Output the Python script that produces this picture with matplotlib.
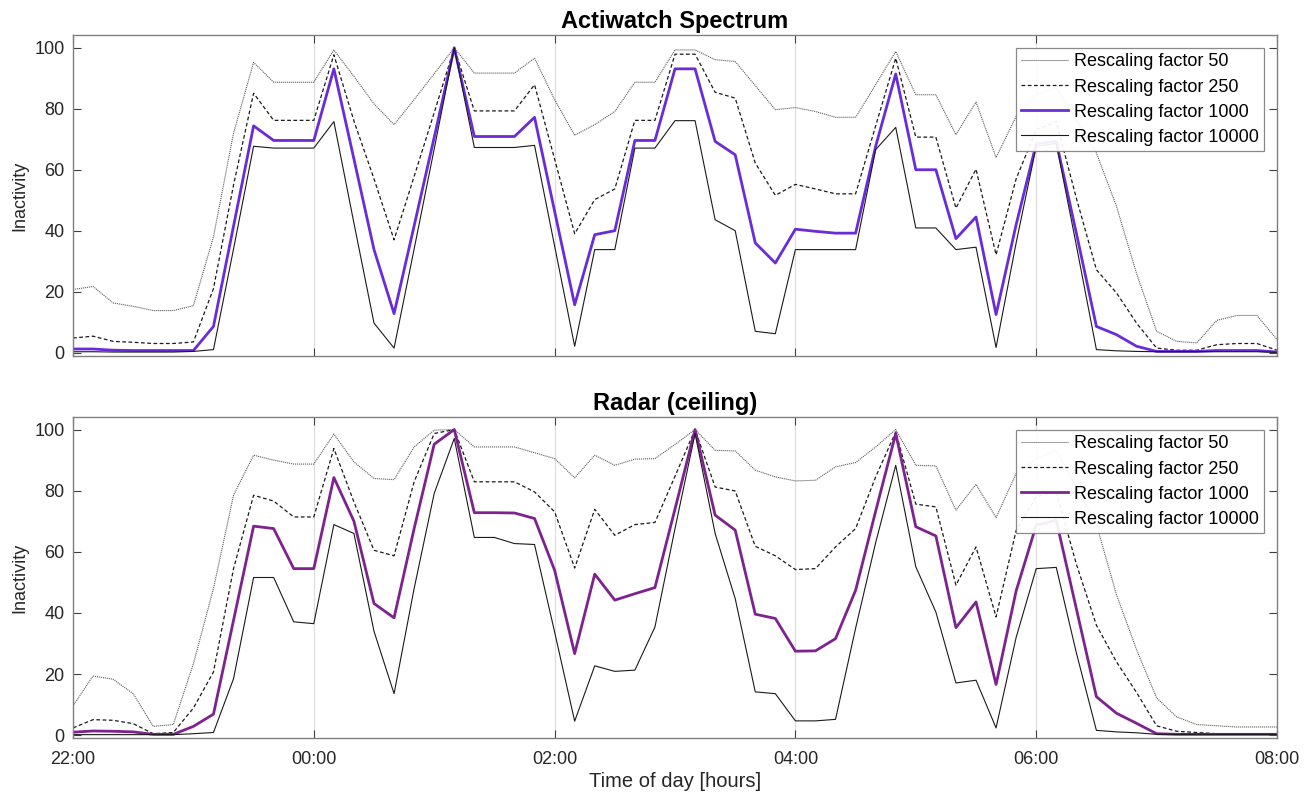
import numpy as np
import matplotlib
matplotlib.use("Agg")
import matplotlib.pyplot as plt

plt.rcParams["font.family"] = ["Liberation Sans", "DejaVu Sans"]

# samples every 10 minutes from 22:00 to 08:00
minutes = np.arange(61) * 10
tick_minutes = [0, 120, 240, 360, 480, 600]
tick_labels = ["22:00", "00:00", "02:00", "04:00", "06:00", "08:00"]
factor_labels = ["Rescaling factor 50", "Rescaling factor 250",
                 "Rescaling factor 1000", "Rescaling factor 10000"]

# Actiwatch Spectrum
act_50 = [20.7, 21.7, 16.3, 15.2, 13.8, 13.8, 15.4, 38, 72, 95.2,
          88.7, 88.7, 88.7, 99.3, 90.6, 81.6, 74.8, 83, 91.5, 100,
          91.7, 91.7, 91.7, 96.6, 83, 71.3, 74.8, 79.1, 88.7, 88.7,
          99.3, 99.3, 96.1, 95.5, 87.6, 79.7, 80.4, 79.1, 77.2, 77.2,
          87.9, 98.8, 84.6, 84.6, 71.5, 82.2, 64.0, 77.5, 84.6, 87,
          76, 65.5, 48, 26, 7.0, 3.7, 3.2, 10.6, 12.2, 12.2, 4.3]
act_250 = [4.8, 5.4, 3.7, 3.4, 3.0, 3.0, 3.5, 21, 55, 85.1,
           76.2, 76.2, 76.2, 97.7, 76, 57, 37, 57.8, 78.7, 100,
           79.3, 79.3, 79.3, 87.9, 63.5, 39.0, 50.2, 53.7, 76.2, 76.2,
           97.9, 97.9, 85.4, 83.5, 62.2, 51.6, 55.2, 53.7, 52.1, 52.1,
           74.4, 96.6, 70.7, 70.7, 47.4, 60.2, 32.1, 57, 73.1, 75.8,
           50.7, 27.2, 19.6, 9.7, 1.5, 0.8, 0.8, 2.6, 3.0, 3.0, 0.8]
act_1000 = [1.2, 1.2, 0.8, 0.7, 0.7, 0.7, 0.7, 8.6, 41.5, 74.4,
            69.6, 69.6, 69.6, 93.1, 63.5, 33.8, 12.8, 41.6, 70.6, 100,
            70.9, 70.9, 70.9, 77.2, 46.4, 15.7, 38.7, 40.0, 69.6, 69.6,
            93.1, 93.1, 69.3, 64.9, 36.0, 29.4, 40.5, 39.8, 39.2, 39.2,
            67.7, 91.4, 60.0, 60.0, 37.4, 44.5, 12.5, 42, 68.5, 69.3,
            39.2, 8.6, 5.9, 2.1, 0.4, 0.4, 0.4, 0.7, 0.7, 0.7, 0.2]
act_10000 = [0.3, 0.3, 0.2, 0.2, 0.2, 0.2, 0.4, 1.0, 34, 67.7,
             67.1, 67.1, 67.1, 75.8, 42.5, 9.7, 1.5, 34, 66.8, 100,
             67.3, 67.3, 67.3, 68.0, 35, 2.1, 33.8, 33.8, 67.1, 67.1,
             76.1, 76.1, 43.6, 40.0, 7.0, 6.2, 33.8, 33.8, 33.8, 33.8,
             66.6, 73.9, 40.9, 40.9, 33.8, 34.6, 1.7, 36, 67.6, 68.7,
             35.2, 1.0, 0.6, 0.4, 0.3, 0.3, 0.3, 0.3, 0.3, 0.3, 0.1]

# Radar (ceiling)
rad_50 = [9.6, 19.4, 18.3, 13.6, 2.9, 3.5, 23.4, 48.0, 78.5, 91.6,
          90.0, 88.7, 88.7, 98.5, 89.4, 84.0, 83.6, 94.3, 99.8, 100,
          94.3, 94.3, 94.3, 92.4, 90.5, 84.2, 91.6, 88.3, 90.3, 90.5,
          95.1, 100, 93.2, 93.0, 86.7, 84.5, 83.2, 83.4, 87.8, 89.2,
          94.3, 100, 88.3, 88.1, 73.6, 82.1, 71.2, 85.6, 90.5, 93.2,
          81, 69, 46, 28, 12.2, 6.0, 3.5, 3.1, 2.7, 2.7, 2.7]
rad_250 = [2.4, 5.1, 4.9, 3.8, 0.5, 0.9, 8.9, 20.7, 54.5, 78.5,
           76.6, 71.4, 71.4, 93.8, 76.3, 60.5, 58.7, 82.9, 98.7, 100,
           82.9, 82.9, 82.9, 79.6, 73.1, 54.7, 73.9, 65.4, 68.9, 69.6,
           84.7, 100, 81.2, 79.9, 61.8, 58.7, 54.2, 54.5, 61.6, 67.6,
           84.5, 99.2, 75.6, 74.7, 49.1, 61.6, 38.7, 67, 78, 79.6,
           56, 36, 24, 14, 3.1, 1.3, 0.9, 0.5, 0.5, 0.5, 0.5]
rad_1000 = [1.0, 1.4, 1.3, 1.1, 0.3, 0.3, 2.9, 6.9, 37.6, 68.4,
            67.6, 54.5, 54.5, 84.3, 70.0, 43.1, 38.4, 67.6, 95.2, 100,
            72.8, 72.8, 72.7, 70.9, 54.0, 26.7, 52.7, 44.2, 46.3, 48.3,
            74, 100, 72.0, 67.1, 39.6, 38.2, 27.5, 27.6, 31.6, 47.4,
            73.3, 98.7, 68.2, 65.2, 35.2, 43.6, 16.6, 47.2, 68.7, 70.3,
            41.4, 12.6, 7.2, 3.9, 0.5, 0.3, 0.3, 0.3, 0.3, 0.3, 0.3]
rad_10000 = [0.2, 0.2, 0.2, 0.2, 0.2, 0.2, 0.5, 0.9, 18.5, 51.6,
             51.6, 37.1, 36.5, 68.9, 66.0, 34.0, 13.6, 48.0, 79.1, 97.1,
             64.7, 64.7, 62.7, 62.4, 33.8, 4.6, 22.7, 20.9, 21.3, 35.4,
             67.6, 98.7, 66.0, 44.7, 14.2, 13.6, 4.7, 4.7, 5.2, 35,
             63, 88.3, 55.1, 40.3, 17.1, 18.0, 2.4, 32, 54.5, 54.9,
             27, 1.6, 1.1, 0.8, 0.3, 0.3, 0.3, 0.3, 0.3, 0.3, 0.3]

W, H = 1309, 794
fig = plt.figure(figsize=(W / 100, H / 100), dpi=100)


def px_axes(left, top, right, bottom):
    return fig.add_axes([left / W, 1 - bottom / H, (right - left) / W, (bottom - top) / H])


def draw_panel(ax, title, series, accent, ylim, show_xlabels):
    s50, s250, s1000, s10000 = series
    ax.plot(minutes, s50, color="#5e5e5e", lw=0.8, ls=(0, (1, 0.8)), label=factor_labels[0])
    ax.plot(minutes, s250, color="#1a1a1a", lw=0.9, ls=(0, (3, 2)), label=factor_labels[1])
    ax.plot(minutes, s1000, color=accent, lw=2.0, label=factor_labels[2])
    ax.plot(minutes, s10000, color="#1a1a1a", lw=0.8, label=factor_labels[3])

    ax.set_xlim(0, 600)
    ax.set_ylim(*ylim)
    ax.set_xticks(tick_minutes)
    ax.set_yticks([0, 20, 40, 60, 80, 100])
    if show_xlabels:
        ax.set_xticklabels(tick_labels)
        ax.set_xlabel("Time of day [hours]", fontsize=14.5, color="#262626", labelpad=3)
    else:
        ax.set_xticklabels([])
    ax.grid(axis="x", color="#dcdcdc", lw=0.8)
    ax.set_axisbelow(True)
    ax.tick_params(direction="in", length=6, width=0.8, top=True, right=True,
                   labelsize=13, colors="#404040", labelcolor="#262626")
    ax.tick_params(axis="x", pad=9)
    ax.tick_params(axis="y", pad=6)
    for sp in ax.spines.values():
        sp.set_color("#808080")
        sp.set_linewidth(1.0)
    ax.set_ylabel("Inactivity", fontsize=13, color="#262626", labelpad=4)
    ax.set_title(title, fontsize=17, fontweight="bold", pad=5)

    leg = ax.legend(loc="upper right", bbox_to_anchor=(1 - 13 / 1204, 1 - 13 / 321),
                    borderaxespad=0, fontsize=13, frameon=True, fancybox=False,
                    framealpha=0.93, edgecolor="#808080", handlelength=2.6,
                    handletextpad=0.3, labelspacing=0.45, borderpad=0.3)
    leg.get_frame().set_linewidth(0.9)


ax1 = px_axes(73, 35, 1277, 356)
draw_panel(ax1, "Actiwatch Spectrum", [act_50, act_250, act_1000, act_10000],
           "#6a2bd9", (-1.1, 104.2), False)

ax2 = px_axes(73, 417, 1277, 738)
draw_panel(ax2, "Radar (ceiling)", [rad_50, rad_250, rad_1000, rad_10000],
           "#7e2290", (-0.9, 104.1), True)

fig.savefig("out.png", dpi=100)
